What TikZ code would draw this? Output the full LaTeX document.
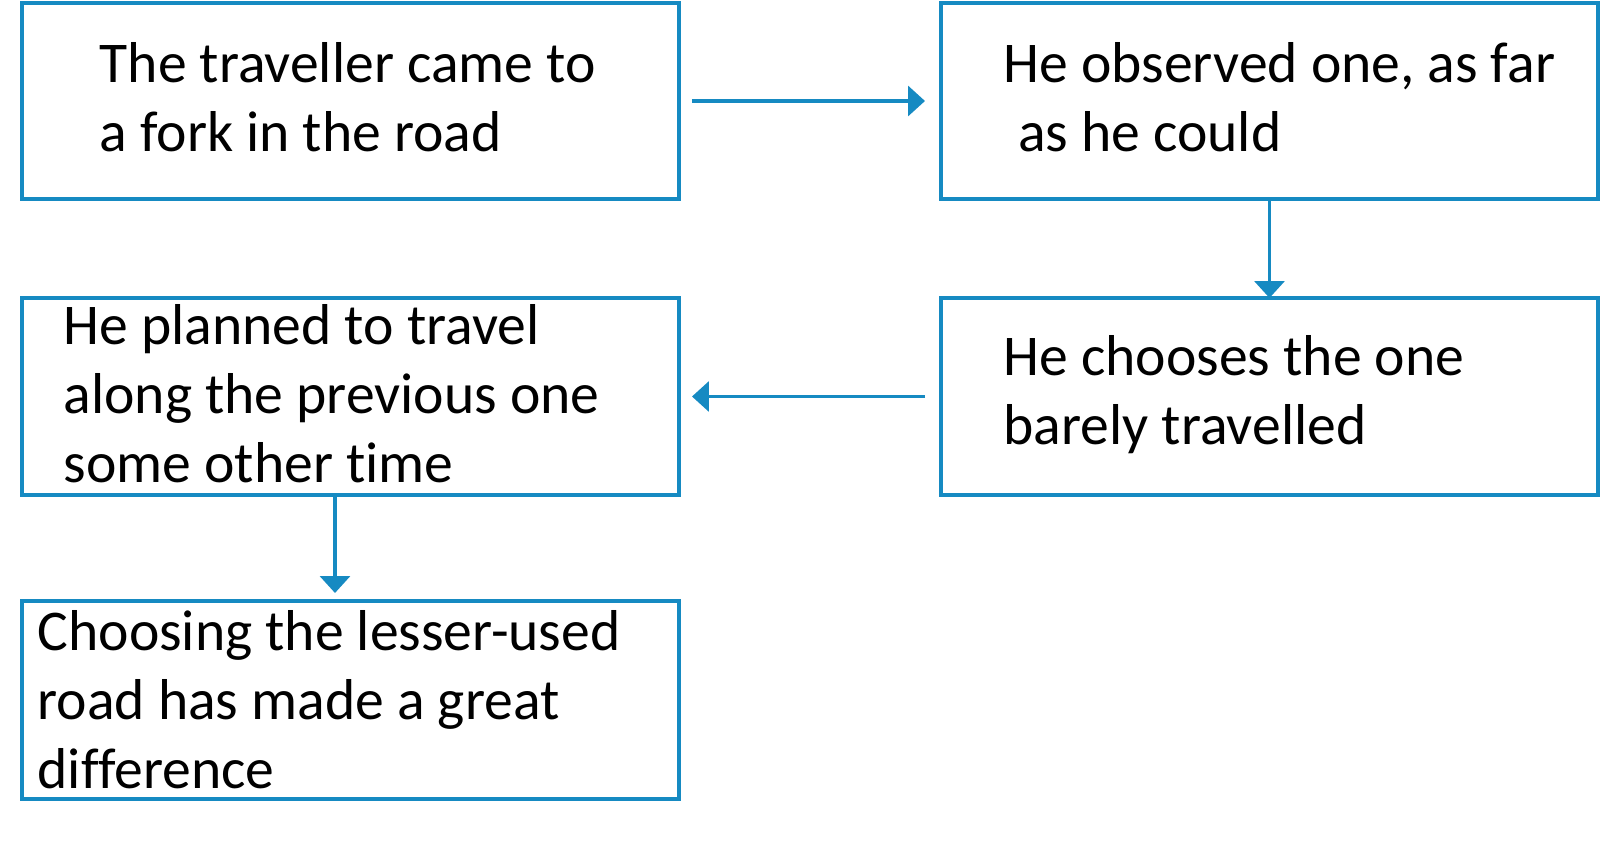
\documentclass[tikz,border=0pt]{standalone}
\usepackage{fontspec}
\setmainfont{Carlito}[Ligatures=NoCommon]
\usetikzlibrary{arrows.meta}
\definecolor{flowblue}{RGB}{22,138,194}
\tikzset{
  box/.style={draw=flowblue, line width=1.1pt, inner sep=0pt, outer sep=0pt, anchor=north west},
  txt/.style={font=\fontsize{16.4}{19.6}\selectfont, align=left, inner sep=0pt, anchor=north west},
  link/.style={draw=flowblue, line width=1pt, -{Triangle[length=0.17cm,width=0.30cm]}}
}

\begin{document}
\begin{tikzpicture}[x=0.1mm,y=-0.1mm]
\useasboundingbox (0,0) rectangle (1602,842);
% boxes
\node[box, minimum width=6.57cm, minimum height=1.96cm] (fork) at (22,3) {};
\node[box, minimum width=6.57cm, minimum height=1.96cm] (observe) at (941,3) {};
\node[box, minimum width=6.57cm, minimum height=1.97cm] (choose) at (941,298) {};
\node[box, minimum width=6.57cm, minimum height=1.97cm] (plan) at (22,298) {};
\node[box, minimum width=6.57cm, minimum height=1.98cm] (diff) at (22,601) {};
% texts
\node[txt] (forktext) at (99,34) {\strut The traveller came to\\a fork in the road};
\node[txt] (observetext) at (1003,34) {\strut He observed one, as far\\\hspace*{0.25em}as he could};
\node[txt] (choosetext) at (1003,327) {\strut He chooses the one\\barely travelled};
\node[txt] (plantext) at (63,296) {\strut He planned to travel\\along the previous one\\some other time};
\node[txt] (difftext) at (37,602) {\strut Choosing the lesser-used\\road has made a great\\difference};
% arrows
\draw[link, shorten <=1.3mm, shorten >=1.6mm] (fork.east) -- (observe.west);
\draw[link] (observe.south) -- (choose.north);
\draw[link, shorten <=1.6mm, shorten >=1.3mm] (choose.west) -- (plan.east);
\draw[link, shorten >=0.8mm] ([xshift=-1.55mm]plan.south) -- ([xshift=-1.55mm]diff.north);
\end{tikzpicture}
\end{document}
